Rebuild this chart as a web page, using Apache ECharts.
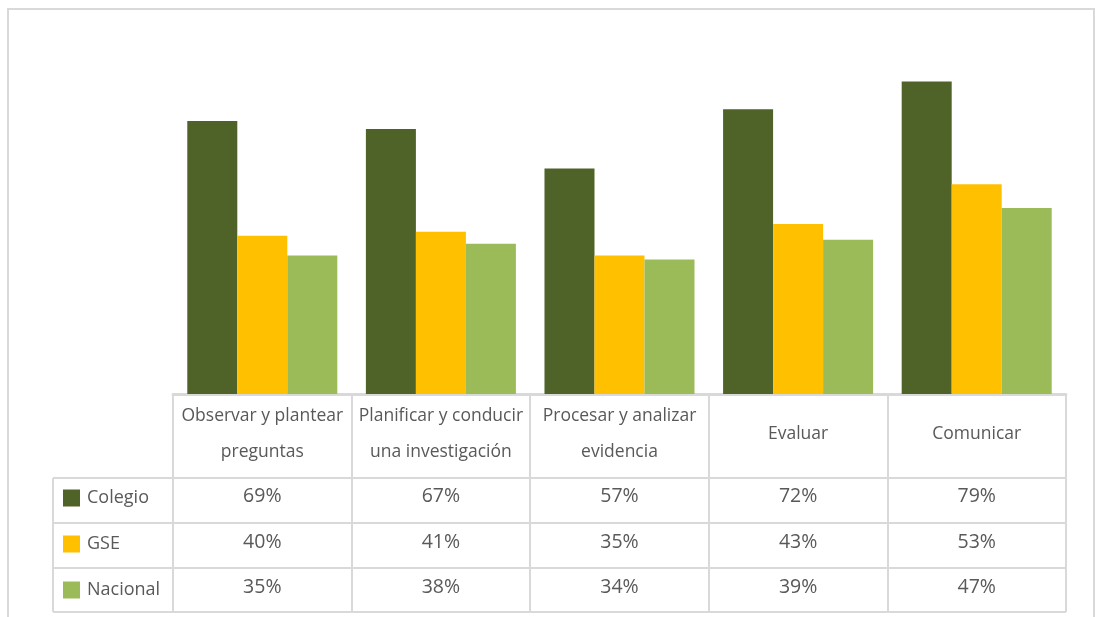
<!DOCTYPE html>
<html>
<head>
<meta charset="utf-8">
<script src="https://cdn.jsdelivr.net/npm/echarts@6/dist/echarts.min.js"></script>
<style>
html,body{margin:0;padding:0;background:#fff;}
#c{width:1095px;height:617px;}
</style>
</head>
<body>
<div id="c"></div>
<script>
const categories = ['Observar y plantear\npreguntas', 'Planificar y conducir\nuna investigación', 'Procesar y analizar\nevidencia', 'Evaluar', 'Comunicar'];
const seriesNames = ['Colegio', 'GSE', 'Nacional'];
const colegio = [69, 67, 57, 72, 79];
const gse = [40, 41, 35, 43, 53];
const nacional = [35, 38, 34, 39, 47];

const colors = ['#4f6228', '#ffc000', '#9bbb59'];
const gridColor = '#d9d9d9';
const textColor = '#595959';
const fontFamily = 'Open Sans';

const chart = echarts.init(document.getElementById('c'), null, {renderer: 'canvas'});

const gridLeft = 173, gridRight = 1095 - 1066, gridTop = 38, baseY = 394;
const rowLines = [478, 523, 568, 612];
const rowCenters = [496, 542, 587];

function valueAxis(arr, idx) {
  return {
    type: 'category', data: categories, gridIndex: 0, position: 'bottom',
    axisLine: {show: false}, axisTick: {show: false}, splitLine: {show: false},
    axisLabel: {
      margin: rowCenters[idx] - baseY, verticalAlign: 'middle',
      color: textColor, fontFamily, fontSize: 19.5,
      formatter: (v, i) => arr[i] + '%'
    }
  };
}

const lineStyle = {stroke: gridColor, lineWidth: 2};
const graphics = [
  {type: 'rect', shape: {x: 8, y: 9, width: 1086, height: 640}, style: {fill: null, stroke: gridColor, lineWidth: 2}, silent: true, z: -1},
  {type: 'line', shape: {x1: 53, y1: rowLines[0], x2: 53, y2: rowLines[3]}, style: lineStyle}
];
rowLines.forEach(y => graphics.push({type: 'line', shape: {x1: 53, y1: y, x2: 1066, y2: y}, style: lineStyle}));

chart.setOption({
  animation: false,
  backgroundColor: '#fff',
  grid: {left: gridLeft, right: gridRight, top: gridTop, bottom: 617 - baseY, containLabel: false},
  legend: {
    orient: 'vertical', left: 63, top: rowCenters[0] - 7, padding: 0,
    itemWidth: 17, itemHeight: 17, itemGap: 28, icon: 'rect',
    textStyle: {color: textColor, fontFamily, fontSize: 18, padding: [0, 0, 0, 2]},
    data: seriesNames
  },
  xAxis: [
    {
      type: 'category', data: categories, gridIndex: 0, position: 'bottom',
      axisLine: {show: true, lineStyle: {color: gridColor, width: 3}},
      axisTick: {show: true, inside: false, length: rowLines[3] - baseY, lineStyle: {color: gridColor, width: 2}},
      axisLabel: {margin: 40, verticalAlign: 'middle', color: textColor, fontFamily, fontSize: 17.5, lineHeight: 36, interval: 0}
    },
    valueAxis(colegio, 0),
    valueAxis(gse, 1),
    valueAxis(nacional, 2)
  ],
  yAxis: {
    type: 'value', min: 0, max: 90, show: false,
    splitLine: {show: false}
  },
  series: [
    {name: seriesNames[0], type: 'bar', data: colegio, itemStyle: {color: colors[0]}, barGap: '0%', barCategoryGap: '16%'},
    {name: seriesNames[1], type: 'bar', data: gse, itemStyle: {color: colors[1]}, barGap: '0%', barCategoryGap: '16%'},
    {name: seriesNames[2], type: 'bar', data: nacional, itemStyle: {color: colors[2]}, barGap: '0%', barCategoryGap: '16%'}
  ],
  graphic: graphics
});
</script>
</body>
</html>
